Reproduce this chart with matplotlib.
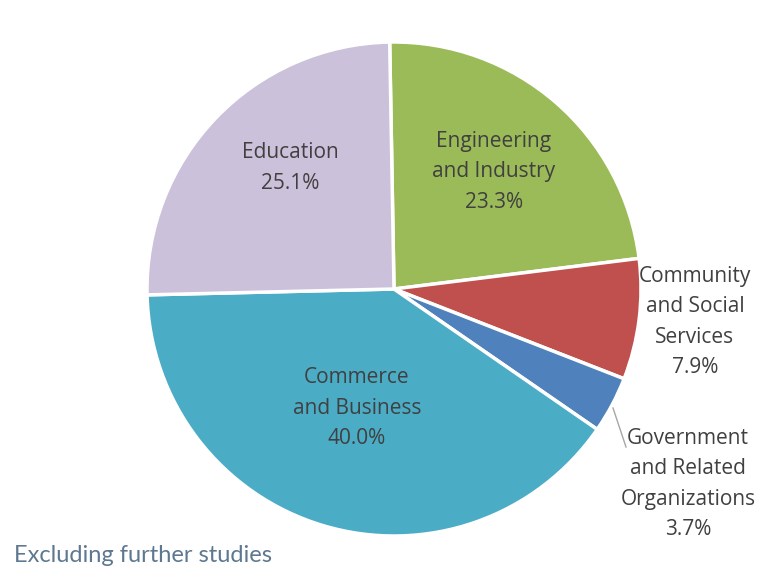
import matplotlib
matplotlib.use('Agg')
import matplotlib.pyplot as plt

# Dados do gráfico
categories = ["Engineering\nand Industry", "Community\nand Social\nServices",
              "Government\nand Related\nOrganizations", "Commerce\nand Business", "Education"]
shares = [23.3, 7.9, 3.7, 40.0, 25.1]
colors = ['#9BBB59', '#C0504D', '#4F81BD', '#4BACC6', '#CCC1DA']

W, H = 771, 574
fig = plt.figure(figsize=(W / 100, H / 100), dpi=100)
ax = fig.add_axes([0, 0, 1, 1])

cx, cy, r = 394, H - 289, 247
ax.pie(shares, colors=colors, startangle=91, counterclock=False,
       center=(cx, cy), radius=r, frame=True,
       wedgeprops=dict(edgecolor='white', linewidth=2.5))
ax.set_xlim(0, W)
ax.set_ylim(0, H)
ax.set_aspect('equal')
ax.axis('off')

# posições dos rótulos (pixels, origem no topo)
label_pos = [(494, 172), (695, 322), (688, 484), (357, 408), (290, 168)]
for cat, val, (px, py) in zip(categories, shares, label_pos):
    ax.text(px, H - py, f"{cat}\n{val:.1f}%", ha='center', va='center',
            fontsize=15, color='#404040', family='Open Sans', linespacing=1.6)

# linha de chamada para Government
ax.plot([613, 626], [H - 408, H - 447], color='#A6A6A6', linewidth=1)

fig.text(14 / W, 1 - 556 / H, "Excluding further studies", ha='left', va='center',
         fontsize=17, color='#5E7890', family='Lato', fontweight='normal')

plt.savefig('out.png', dpi=100)
plt.close(fig)
